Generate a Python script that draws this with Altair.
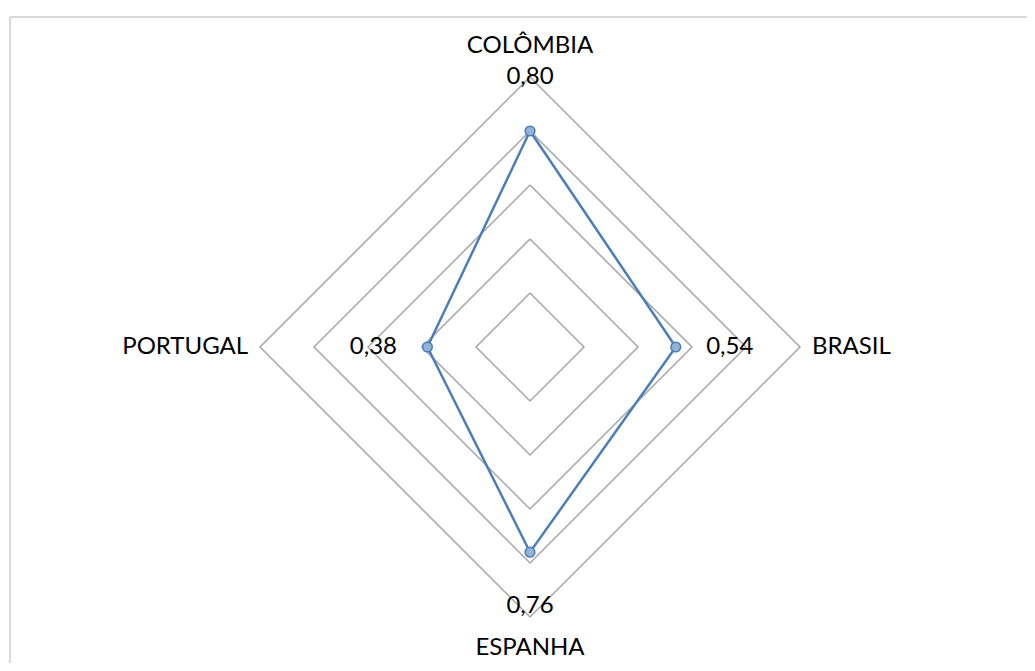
import math
import altair as alt
import pandas as pd

# ---- data ----
categories = ["COLÔMBIA", "BRASIL", "ESPANHA", "PORTUGAL"]
values = [0.80, 0.54, 0.76, 0.38]
value_labels = ["0,80", "0,54", "0,76", "0,38"]
grid_levels = [0.2, 0.4, 0.6, 0.8, 1.0]

# ---- geometry helpers (angles: first category at top, clockwise) ----
def angle(i):
    return math.pi / 2 - i * 2 * math.pi / len(categories)

# series polygon (closed)
series_rows = []
for k in range(len(categories) + 1):
    i = k % len(categories)
    a = angle(i)
    series_rows.append({"order": k, "cat": categories[i], "v": values[i],
                        "x": values[i] * math.cos(a), "y": values[i] * math.sin(a)})
series_df = pd.DataFrame(series_rows)
points_df = series_df.iloc[:-1].copy()

# value labels, placed 0.2 units outside the point (as Excel did)
lab_rows = []
for i, (v, t) in enumerate(zip(values, value_labels)):
    a = angle(i)
    r = v + 0.2
    lab_rows.append({"t": t, "x": r * math.cos(a), "y": r * math.sin(a)})
lab_df = pd.DataFrame(lab_rows)

# grid diamonds
grid_rows = []
for lv in grid_levels:
    for k in range(len(categories) + 1):
        a = angle(k % len(categories))
        grid_rows.append({"level": lv, "order": k, "x": lv * math.cos(a), "y": lv * math.sin(a)})
grid_df = pd.DataFrame(grid_rows)

# category labels
cat_rows = []
for i, c in enumerate(categories):
    a = angle(i)
    vertical = abs(math.cos(a)) < 1e-9
    r = 1.113 if vertical else 1.044
    side = "v" if vertical else ("r" if math.cos(a) > 0 else "l")
    cat_rows.append({"c": c, "side": side, "x": r * math.cos(a), "y": r * math.sin(a)})
cat_df = pd.DataFrame(cat_rows)

W, H = 1019, 655
PX = 270.0  # pixels per unit
cx, cy = 522.0, 339.0
xs = alt.Scale(domain=[-cx / PX, (W - cx) / PX], zero=False, nice=False)
ys = alt.Scale(domain=[-(H - cy) / PX, cy / PX], zero=False, nice=False)

X = lambda: alt.X("x:Q", scale=xs, axis=None)
Y = lambda: alt.Y("y:Q", scale=ys, axis=None)

FONT = "Lato"
FS = 24

grid = alt.Chart(grid_df).mark_line(color="#a6a6a6", strokeWidth=1.5).encode(
    x=X(), y=Y(), detail="level:N", order="order:Q")

line = alt.Chart(series_df).mark_line(color="#4a7ebb", strokeWidth=2.5).encode(
    x=X(), y=Y(), order="order:Q")

pts = alt.Chart(points_df).mark_point(
    filled=True, fill="#95b3d7", stroke="#4a7ebb", strokeWidth=1.5, size=95, opacity=1
).encode(x=X(), y=Y())

vlabels = alt.Chart(lab_df).mark_text(
    font=FONT, fontSize=FS, color="#000000", align="center", baseline="middle"
).encode(x=X(), y=Y(), text="t:N")

cat_v = alt.Chart(cat_df).transform_filter(alt.datum.side == "v").mark_text(
    font=FONT, fontSize=FS, color="#000000", align="center", baseline="middle"
).encode(x=X(), y=Y(), text="c:N")
cat_r = alt.Chart(cat_df).transform_filter(alt.datum.side == "r").mark_text(
    font=FONT, fontSize=FS, color="#000000", align="left", baseline="middle"
).encode(x=X(), y=Y(), text="c:N")
cat_l = alt.Chart(cat_df).transform_filter(alt.datum.side == "l").mark_text(
    font=FONT, fontSize=FS, color="#000000", align="right", baseline="middle"
).encode(x=X(), y=Y(), text="c:N")

frame_df = pd.DataFrame({"k": [0]})
frame_top = alt.Chart(frame_df).mark_rule(color="#d9d9d9", strokeWidth=2).encode(
    x=alt.value(2), x2=alt.value(W), y=alt.value(9))
frame_left = alt.Chart(frame_df).mark_rule(color="#d9d9d9", strokeWidth=2).encode(
    x=alt.value(2), y=alt.value(9), y2=alt.value(H))

chart = alt.layer(
    frame_top, frame_left, grid, line, pts, vlabels, cat_v, cat_r, cat_l
).properties(
    width=W, height=H, autosize="none", padding=0
).configure_view(stroke=None)

chart.save("out.html", embed_options={"renderer": "svg", "actions": False})
